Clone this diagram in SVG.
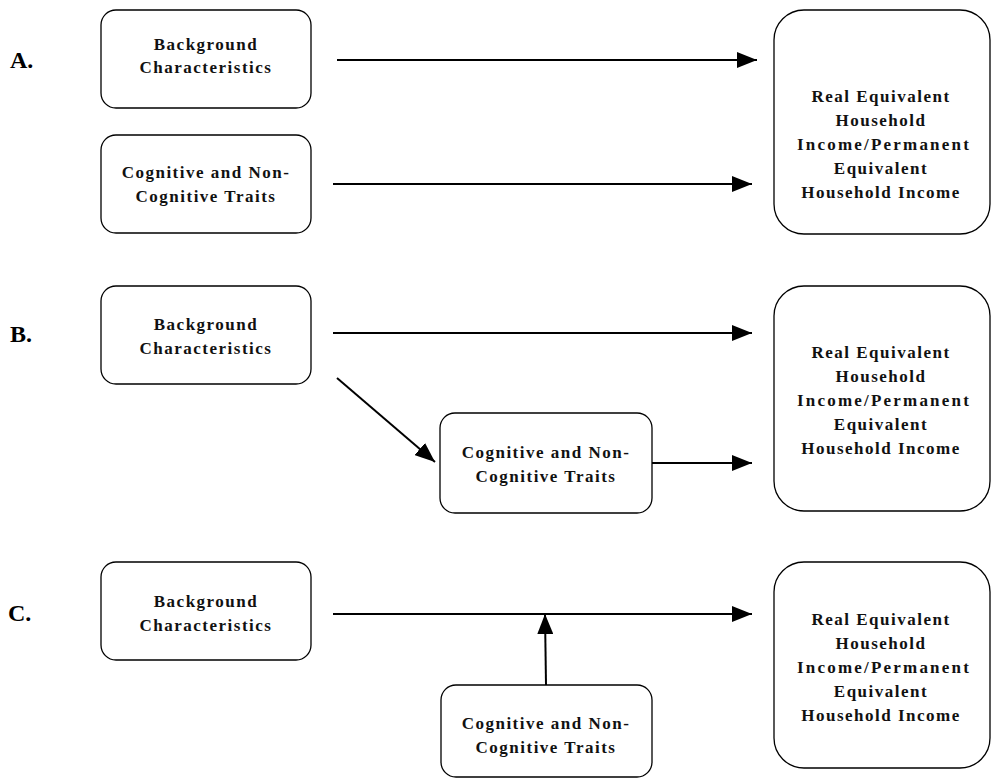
<svg xmlns="http://www.w3.org/2000/svg" width="991" height="781" viewBox="0 0 991 781">
<defs>
<marker id="ah" markerWidth="20" markerHeight="16" refX="20" refY="8" orient="auto" markerUnits="userSpaceOnUse">
<path d="M0,0 L20,8 L0,16 Z" fill="#000"/>
</marker>
<style>
.box{fill:#fff;stroke:#000;stroke-width:1.3}
.t{font-family:"Liberation Serif",serif;font-weight:bold;font-size:17px;text-anchor:middle;fill:#111;letter-spacing:1.5px}
.w{letter-spacing:2.2px}
.lab{font-family:"Liberation Serif",serif;font-weight:bold;font-size:24px;fill:#000}
.c{stroke:#000;stroke-width:2;fill:none;marker-end:url(#ah)}
</style>
</defs>
<rect width="991" height="781" fill="#fff"/>
<text class="lab" x="10" y="68">A.</text>
<text class="lab" x="10" y="342">B.</text>
<text class="lab" x="8" y="621">C.</text>

<g id="a-bg"><rect class="box" x="101" y="10" width="210" height="98" rx="15"/>
<text class="t" x="206" y="50">Background</text><text class="t" x="206" y="73">Characteristics</text></g>
<g id="a-cog"><rect class="box" x="101" y="135" width="210" height="98" rx="15"/>
<text class="t" x="206" y="178">Cognitive and Non-</text><text class="t" x="206" y="202">Cognitive Traits</text></g>
<g id="a-inc"><rect class="box" x="774" y="10" width="216" height="224" rx="30"/>
<text class="t" x="881" y="102">Real Equivalent</text><text class="t" x="881" y="126">Household</text><text class="t w" x="884" y="150">Income/Permanent</text><text class="t" x="881" y="174">Equivalent</text><text class="t" x="881" y="198">Household Income</text></g>

<g id="b-bg"><rect class="box" x="101" y="286" width="210" height="98" rx="15"/>
<text class="t" x="206" y="330">Background</text><text class="t" x="206" y="354">Characteristics</text></g>
<g id="b-cog"><rect class="box" x="440" y="413" width="212" height="100" rx="15"/>
<text class="t" x="546" y="458">Cognitive and Non-</text><text class="t" x="546" y="482">Cognitive Traits</text></g>
<g id="b-inc"><rect class="box" x="774" y="286" width="216" height="225" rx="30"/>
<text class="t" x="881" y="358">Real Equivalent</text><text class="t" x="881" y="382">Household</text><text class="t w" x="884" y="406">Income/Permanent</text><text class="t" x="881" y="430">Equivalent</text><text class="t" x="881" y="454">Household Income</text></g>

<g id="c-bg"><rect class="box" x="101" y="562" width="210" height="98" rx="15"/>
<text class="t" x="206" y="607">Background</text><text class="t" x="206" y="631">Characteristics</text></g>
<g id="c-cog"><rect class="box" x="441" y="685" width="211" height="92" rx="15"/>
<text class="t" x="546" y="729">Cognitive and Non-</text><text class="t" x="546" y="753">Cognitive Traits</text></g>
<g id="c-inc"><rect class="box" x="774" y="562" width="216" height="206" rx="30"/>
<text class="t" x="881" y="625">Real Equivalent</text><text class="t" x="881" y="649">Household</text><text class="t w" x="884" y="673">Income/Permanent</text><text class="t" x="881" y="697">Equivalent</text><text class="t" x="881" y="721">Household Income</text></g>

<g id="connectors">
<line class="c" x1="337" y1="60" x2="757" y2="60"/>
<line class="c" x1="333" y1="184" x2="752" y2="184"/>
<line class="c" x1="333" y1="333" x2="752" y2="333"/>
<line class="c" x1="337" y1="378" x2="435" y2="462"/>
<line class="c" x1="652" y1="463" x2="752" y2="463"/>
<line class="c" x1="333" y1="614" x2="752" y2="614"/>
<line class="c" x1="546" y1="685" x2="545" y2="614"/>
</g>
</svg>
